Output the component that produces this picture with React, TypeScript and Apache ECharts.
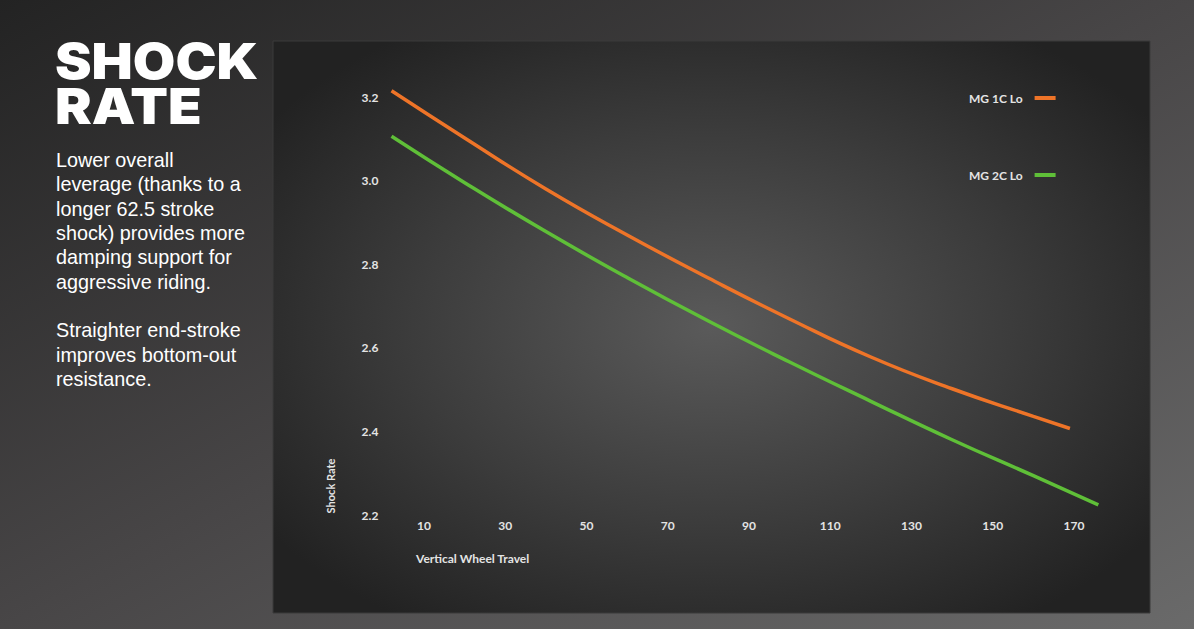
import React, { useEffect, useRef } from "react";
import * as echarts from "echarts";

const travelOrange = [2, 20, 40, 60, 80, 100, 120, 140, 160, 169];
const rateOrange = [3.215, 3.102, 2.98, 2.87, 2.767, 2.669, 2.578, 2.502, 2.436, 2.407];
const travelGreen = [2, 20, 40, 60, 80, 100, 120, 140, 160, 176];
const rateGreen = [3.106, 2.995, 2.878, 2.768, 2.664, 2.566, 2.472, 2.38, 2.294, 2.224];
const xTicks = [10, 30, 50, 70, 90, 110, 130, 150, 170];
const yTicks = [2.2, 2.4, 2.6, 2.8, 3.0, 3.2];
const seriesNames = ["MG 1C Lo", "MG 2C Lo"];
const titleText = "SHOCK\nRATE";
const bodyText =
  "Lower overall\nleverage (thanks to a\nlonger 62.5 stroke\nshock) provides more\ndamping support for\naggressive riding.\n\nStraighter end-stroke\nimproves bottom-out\nresistance.";

const ORANGE = "#ee7428";
const GREEN = "#5fbf38";
const LABEL = "#e4e4e4";
const AXIS_FONT = "Lato";

export default function App() {
  const ref = useRef<HTMLDivElement>(null);
  useEffect(() => {
    const chart = echarts.init(ref.current!, undefined, { renderer: "svg" });
    chart.setOption({
      animation: false,
      graphic: [
        {
          type: "rect",
          z: -10,
          shape: { x: 0, y: 0, width: 1194, height: 629 },
          style: {
            fill: new echarts.graphic.LinearGradient(0, 0, 1, 1, [
              { offset: 0, color: "#232323" },
              { offset: 0.5, color: "#484647" },
              { offset: 1, color: "#6a6a6a" },
            ]),
          },
          silent: true,
        },
        {
          type: "rect",
          z: -9,
          shape: { x: 273, y: 41, width: 877, height: 572 },
          style: {
            fill: new echarts.graphic.RadialGradient(0.5, 0.5, 0.62, [
              { offset: 0, color: "#5a5a5a" },
              { offset: 0.55, color: "#3c3c3c" },
              { offset: 1, color: "#222222" },
            ]),
            stroke: "#3b3b3b",
            lineWidth: 1,
          },
          silent: true,
        },
        {
          type: "text",
          x: 55,
          y: 38,
          scaleX: 1.1,
          style: {
            text: titleText,
            fill: "#ffffff",
            font: "900 50px Inter",
            lineHeight: 45,
            verticalAlign: "top",
          },
        },
        {
          type: "text",
          x: 56,
          y: 148,
          style: {
            text: bodyText,
            fill: "#ffffff",
            font: "19.8px 'Liberation Sans'",
            lineHeight: 24.3,
            verticalAlign: "top",
          },
        },
        {
          type: "text",
          x: 416,
          y: 558,
          style: {
            text: "Vertical Wheel Travel",
            fill: LABEL,
            font: `bold 12px ${AXIS_FONT}`,
            verticalAlign: "middle",
          },
        },
        {
          type: "text",
          x: 330,
          y: 486,
          rotation: Math.PI / 2,
          style: {
            text: "Shock Rate",
            fill: LABEL,
            font: `bold 11px ${AXIS_FONT}`,
            align: "center",
            verticalAlign: "middle",
          },
        },
      ],
      legend: {
        orient: "vertical",
        left: 964,
        top: 86,
        align: "right",
        itemWidth: 21,
        itemHeight: 4,
        itemGap: 63,
        icon: "rect",
        data: seriesNames,
        textStyle: {
          color: LABEL,
          fontFamily: AXIS_FONT,
          fontWeight: "bold",
          fontSize: 12,
          lineHeight: 14,
          padding: [0, 7, 0, 0],
        },
      },
      grid: { left: 383.4, right: 79.4, top: 55.2, bottom: 114 },
      xAxis: {
        type: "value",
        min: 0,
        max: 180,
        axisLine: { show: false },
        axisTick: { show: false },
        splitLine: { show: false },
        axisLabel: {
          customValues: xTicks,
          color: LABEL,
          fontFamily: AXIS_FONT,
          fontWeight: "bold",
          fontSize: 12,
          margin: 4,
        },
      },
      yAxis: {
        type: "value",
        min: 2.2,
        max: 3.3,
        axisLine: { show: false },
        axisTick: { show: false },
        splitLine: { show: false },
        axisLabel: {
          customValues: yTicks,
          formatter: (v: number) => v.toFixed(1),
          color: LABEL,
          fontFamily: AXIS_FONT,
          fontWeight: "bold",
          fontSize: 12,
          margin: 5,
        },
      },
      series: [
        {
          name: seriesNames[0],
          type: "line",
          smooth: true,
          showSymbol: false,
          data: travelOrange.map((x, i) => [x, rateOrange[i]]),
          lineStyle: { color: ORANGE, width: 3.5 },
          itemStyle: { color: ORANGE },
        },
        {
          name: seriesNames[1],
          type: "line",
          smooth: true,
          showSymbol: false,
          data: travelGreen.map((x, i) => [x, rateGreen[i]]),
          lineStyle: { color: GREEN, width: 3.5 },
          itemStyle: { color: GREEN },
        },
      ],
    });
    return () => chart.dispose();
  }, []);
  return (
    <div
      ref={ref}
      style={{ position: "absolute", left: 0, top: 0, width: 1194, height: 629 }}
    />
  );
}
